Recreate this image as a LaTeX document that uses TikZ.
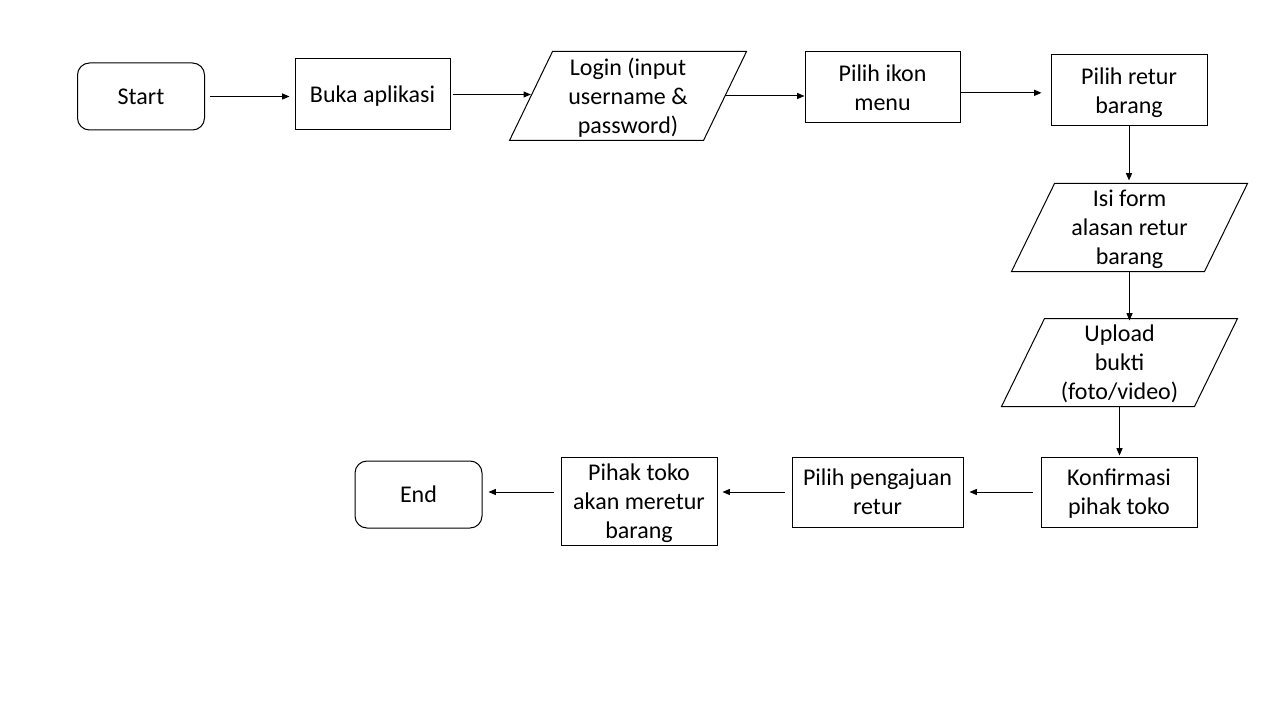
\documentclass[tikz,border=0pt]{standalone}
\usepackage{fontspec}
\setmainfont{Carlito}
\usetikzlibrary{arrows.meta}
\newcommand\topstr{\rule{0pt}{17pt}}
\newcommand\botstr{\rule[-4.5pt]{0pt}{0pt}}
\begin{document}
\begin{tikzpicture}[x=0.75pt,y=-0.75pt,
  base/.style={font=\fontsize{18pt}{21.75pt}\selectfont, align=center, inner sep=0pt, line width=0.75pt},
  box/.style={base,draw,rectangle},
  rbox/.style={base,draw,rounded corners=9pt},
  io/.style={base},
  para/.style={line width=0.75pt},
  arr/.style={-{Triangle[length=5.5pt,width=4.5pt]}, line width=0.75pt}]
\useasboundingbox[fill=white] (0,0) rectangle (1280,720);

\node[rbox, minimum width=95.25pt, minimum height=50.25pt] (start) at (141,96.5) {\topstr Start\botstr};
\node[box, minimum width=116.25pt, minimum height=53.25pt] (buka) at (372.5,94.5) {\topstr Buka aplikasi\botstr};
\node[io, minimum width=177pt, minimum height=66pt] (login) at (628,96) {\topstr Login (input\\username \&\\password)\botstr};
\node[box, minimum width=116.25pt, minimum height=53.25pt] (ikon) at (882.5,87.5) {\topstr Pilih ikon\\menu\botstr};
\node[box, minimum width=117pt, minimum height=53.25pt] (retur) at (1129,90.5) {\topstr Pilih retur\\barang\botstr};
\node[io, minimum width=176.25pt, minimum height=65.25pt] (isi) at (1129.5,227.5) {\topstr Isi form\\alasan retur\\barang\botstr};
\node[io, minimum width=176.25pt, minimum height=65.25pt] (upload) at (1119.5,362.5) {\topstr Upload\\bukti\\(foto/video)\botstr};
\node[box, minimum width=117pt, minimum height=52.5pt] (konf) at (1119,492) {\topstr Konfirmasi\\pihak toko\botstr};
\node[box, minimum width=128.25pt, minimum height=52.5pt] (peng) at (877.5,492) {\topstr Pilih pengajuan\\retur\botstr};
\node[box, minimum width=117pt, minimum height=66pt] (pihak) at (639,501) {\topstr Pihak toko\\akan meretur\\barang\botstr};
\node[rbox, minimum width=95.25pt, minimum height=50.25pt] (end) at (418.5,494.5) {\topstr End\botstr};

\foreach \n in {login,isi,upload}{
  \draw[para] (\n.south west) -- ([xshift=32.25pt]\n.north west) -- (\n.north east) -- ([xshift=-32.25pt]\n.south east) -- cycle;
}

\draw[arr] ([xshift=3.75pt]start.east) -- ([xshift=-3.75pt]start.east -| buka.west);
\draw[arr] ([xshift=1.5pt]buka.east) -- ([xshift=16pt]buka.east -| login.west);
\draw[arr] ([xshift=-16.5pt]login.east) -- (login.east -| ikon.west);
\draw[arr] ([yshift=-4pt]ikon.east) -- ([xshift=-6.75pt,yshift=-4pt]ikon.east -| retur.west);
\draw[arr] (retur.south) -- ([yshift=2.25pt]retur.south |- isi.north);
\draw[arr] (isi.south) -- ([yshift=-1.5pt]isi.south |- upload.north);
\draw[arr] (upload.south) -- ([yshift=0.75pt]upload.south |- konf.north);
\draw[arr] ([xshift=-6pt]konf.west) -- ([xshift=4.5pt]konf.west -| peng.east);
\draw[arr] ([xshift=-5.25pt]peng.west) -- ([xshift=3.75pt]peng.west -| pihak.east);
\draw[arr] ([xshift=-5.25pt]pihak.west |- peng.west) -- ([xshift=4.5pt]end.east |- peng.west);
\end{tikzpicture}
\end{document}
